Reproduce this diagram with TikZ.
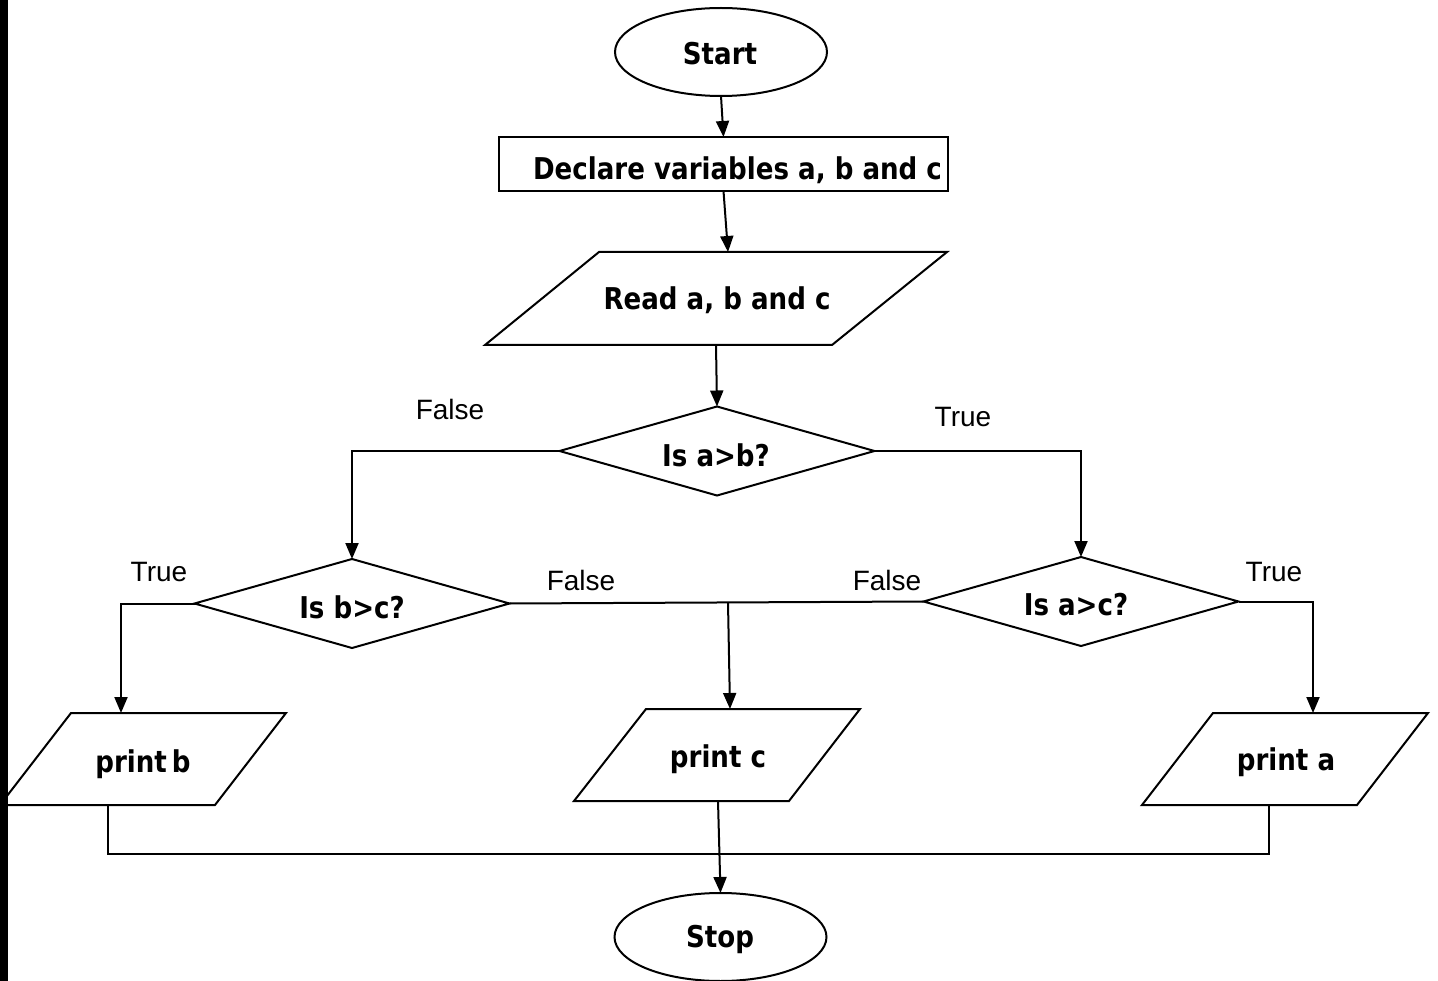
\documentclass[tikz,border=0pt]{standalone}
\usepackage{fontspec}
\setmainfont{DejaVu Sans}[FakeStretch=0.87]
\newfontfamily\labfont{Liberation Sans}
\usetikzlibrary{shapes.geometric,arrows.meta}
\begin{document}
\begin{tikzpicture}[x=1pt,y=-1pt,
  line width=2pt,
  arr/.style={-{Triangle[width=13pt,length=16pt]}},
  shp/.style={draw,inner sep=0pt,outer sep=0pt},
  term/.style={shp,ellipse,minimum width=212pt,minimum height=88pt},
  procbox/.style={shp,rectangle,minimum width=449pt,minimum height=54pt},
  decis/.style={shp,diamond,minimum width=315pt,minimum height=89pt},
  btxt/.style={anchor=base,inner sep=0pt,font=\bfseries\fontsize{30}{36}\selectfont},
  ltxt/.style={anchor=base,inner sep=0pt,font=\labfont\fontsize{28}{32}\selectfont}]
\useasboundingbox (0,0) rectangle (1438,981);
\fill[white] (0,0) rectangle (1438,981);
\fill[black] (0,0) rectangle (8,981);

% shapes
\node[term] (start) at (721,52) {};
\node[procbox] (decl) at (723.5,164) {};
\draw (599,252) -- (947,252) -- (832,345) -- (485,345) -- cycle;
\coordinate (readT) at (728,252);
\coordinate (readB) at (716,345);
\node[decis] (ab) at (717,451) {};
\node[decis] (bc) at (352,603.5) {};
\node[decis] (ac) at (1081,601.5) {};
\draw (71,713) -- (286,713) -- (215,805) -- (0,805) -- cycle;
\coordinate (pbT) at (121,713);
\coordinate (pbB) at (108,805);
\draw (646,709) -- (860,709) -- (789,801) -- (574,801) -- cycle;
\coordinate (pcT) at (730,709);
\coordinate (pcB) at (718,801);
\draw (1213,713) -- (1428,713) -- (1357,805) -- (1142,805) -- cycle;
\coordinate (paT) at (1313,713);
\coordinate (paB) at (1269,805);
\node[term] (stop) at (720.5,937) {};

% texts
\node[btxt] (tstart) at (720,65) {Start};
\node[btxt] (tdecl) at (737.5,180) {Declare variables a, b and c};
\node[btxt] (tread) at (717,310) {Read a, b and c};
\node[btxt] (tab) at (716,466) {Is a>b?};
\node[btxt] (tbc) at (352,618) {Is b>c?};
\node[btxt] (tac) at (1076,615) {Is a>c?};
\node[btxt] (tpb) at (143,772) {print\,b};
\node[btxt] (tpc) at (718,767) {print c};
\node[btxt] (tpa) at (1286,770) {print a};
\node[btxt] (tstop) at (720,947) {Stop};

\node[ltxt] (lf1) at (450,420) {False};
\node[ltxt] (lt1) at (963,427) {True};
\node[ltxt] (lt2) at (159,581) {True};
\node[ltxt] (lf2) at (581,590) {False};
\node[ltxt] (lf3) at (887,590) {False};
\node[ltxt] (lt3) at (1274,581) {True};

% connectors
\draw[arr] (start.south) -- (decl.north);
\draw[arr] (decl.south) -- (readT);
\draw[arr] (readB) -- (ab.north);
\draw[arr] (ab.west) -| (bc.north);
\draw[arr] (ab.east) -| (ac.north);
\draw[arr] (bc.west) -| (pbT);
\draw (bc.east) -- (ac.west);
\coordinate (br) at (728,602.5);
\draw[arr] (br) -- (pcT);
\draw[arr] (ac.east) -| (paT);
\coordinate (bus) at (0,854);
\draw (pbB) -- (pbB |- bus) -- (paB |- bus) -- (paB);
\draw[arr] (pcB) -- (stop.north);
\end{tikzpicture}
\end{document}
